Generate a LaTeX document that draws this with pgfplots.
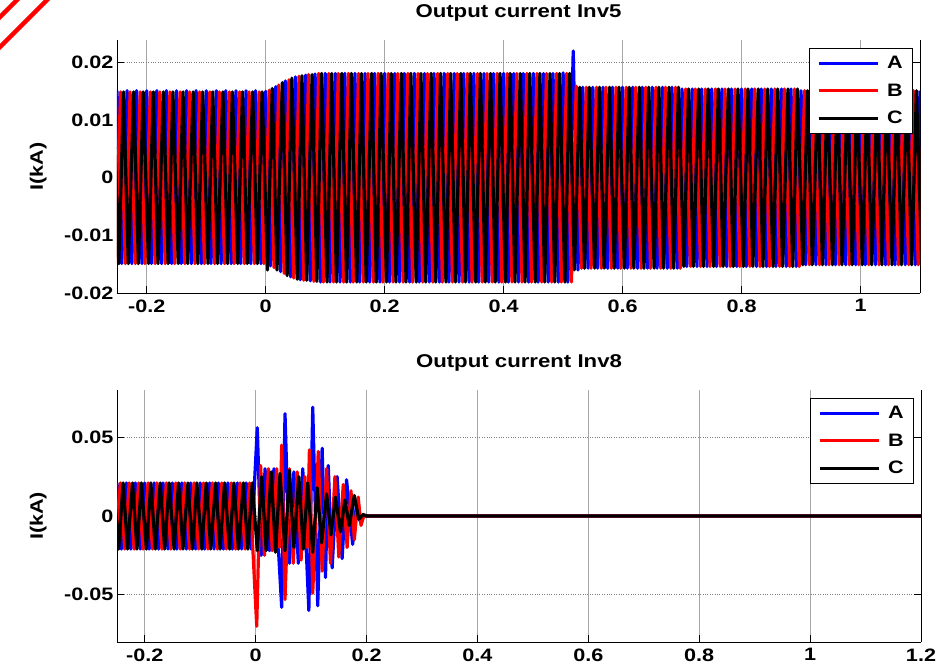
\documentclass[border=0pt]{standalone}
\usepackage{fontspec}
\setmainfont{Liberation Sans}[FakeStretch=1.2]
\usepackage{pgfplots}
\pgfplotsset{compat=1.18}

\pgfplotsset{
  inv/.style={
    scale only axis,
    axis x line*=bottom, axis y line*=box,
    axis line style={-, black, line width=0.9pt},
    tick align=inside, major tick length=7pt,
    every tick/.style={black, line width=0.9pt},
    scaled y ticks=false, scaled x ticks=false,
    grid=major,
    every axis x grid/.append style={gray!70, line width=0.6pt},
    every axis y grid/.append style={gray, dotted, line width=0.7pt},
    tick label style={font=\bfseries\fontsize{18}{20}\selectfont},
    xticklabel style={yshift=-3pt},
    title style={font=\bfseries\fontsize{18.5}{20}\selectfont, at={(0.5,1)}, anchor=base, yshift=16pt},
    every axis y label/.style={at={(axis description cs:-0.098,0.5)}, rotate=90, anchor=center, font=\bfseries\fontsize{18}{20}\selectfont},
    ylabel={I(kA)},
    legend cell align=left,
    legend style={at={(1,1)}, anchor=north east, xshift=-7pt, yshift=-8pt, draw=black, line width=0.8pt,
      font=\bfseries\fontsize{18}{20}\selectfont, row sep=9.5pt, inner xsep=8pt, inner ysep=6pt,
      nodes={inner sep=2pt}, /tikz/every odd column/.append style={column sep=6pt}},
    legend image code/.code={\draw[#1, line width=2.8pt] (0pt,0pt) -- (59pt,0pt);},
    every axis plot/.append style={line width=3.2pt, line join=round},
  }
}

\begin{document}
\begin{tikzpicture}[x=1pt,y=1pt]
\useasboundingbox (0,0) rectangle (945,669);
\draw[red, line width=4.5pt] (-10,612) -- (67,689);
\draw[red, line width=4.5pt] (-10,642) -- (37,689);

% ---------------- Inv5 ----------------
\begin{axis}[inv, at={(117pt,376pt)}, anchor=south west, width=803pt, height=253pt,
  xmin=-0.25, xmax=1.1, ymin=-0.02, ymax=0.0239,
  xtick={-0.2,0,0.2,0.4,0.6,0.8,1}, xticklabels={-0.2,0,0.2,0.4,0.6,0.8,1},
  ytick={-0.02,-0.01,0,0.01,0.02}, yticklabels={-0.02,-0.01,0,0.01,0.02},
  title={Output current Inv5}]
% phase A
\addplot[blue] coordinates {
(-0.250,0.0151) (-0.242,-0.0149) (-0.233,0.0151) (-0.225,-0.0149) (-0.217,0.0151) (-0.208,-0.0149)
(-0.200,0.0151) (-0.192,-0.0149) (-0.183,0.0151) (-0.175,-0.0149) (-0.167,0.0151) (-0.158,-0.0149) (-0.150,0.0151) (-0.142,-0.0149) (-0.133,0.0151) (-0.125,-0.0149) (-0.117,0.0151) (-0.108,-0.0149)
(-0.100,0.0151) (-0.092,-0.0149) (-0.083,0.0151) (-0.075,-0.0149) (-0.067,0.0151) (-0.058,-0.0149) (-0.050,0.0151) (-0.042,-0.0149) (-0.033,0.0151) (-0.025,-0.0149) (-0.017,0.0151) (-0.008,-0.0149)
(0.000,0.0150) (0.008,-0.0153) (0.017,0.0158) (0.025,-0.0163) (0.033,0.0168) (0.042,-0.0172) (0.050,0.0175) (0.058,-0.0177) (0.067,0.0178) (0.075,-0.0179) (0.083,0.0180) (0.092,-0.0181)
(0.100,0.0181) (0.108,-0.0181) (0.117,0.0181) (0.125,-0.0181) (0.133,0.0181) (0.142,-0.0181) (0.150,0.0181) (0.158,-0.0181) (0.167,0.0181) (0.175,-0.0181) (0.183,0.0181) (0.192,-0.0181)
(0.200,0.0181) (0.208,-0.0181) (0.217,0.0181) (0.225,-0.0181) (0.233,0.0181) (0.242,-0.0181) (0.250,0.0181) (0.258,-0.0181) (0.267,0.0181) (0.275,-0.0181) (0.283,0.0181) (0.292,-0.0181)
(0.300,0.0181) (0.308,-0.0181) (0.317,0.0181) (0.325,-0.0181) (0.333,0.0181) (0.342,-0.0181) (0.350,0.0181) (0.358,-0.0181) (0.367,0.0181) (0.375,-0.0181) (0.383,0.0181) (0.392,-0.0181)
(0.400,0.0181) (0.408,-0.0181) (0.417,0.0181) (0.425,-0.0181) (0.433,0.0181) (0.442,-0.0181) (0.450,0.0181) (0.458,-0.0181) (0.467,0.0181) (0.475,-0.0181) (0.483,0.0181) (0.492,-0.0181)
(0.500,0.0182) (0.508,-0.0181) (0.517,0.0220) (0.525,-0.0160) (0.533,0.0157) (0.542,-0.0157) (0.550,0.0157) (0.558,-0.0157) (0.567,0.0157) (0.575,-0.0157) (0.583,0.0157) (0.592,-0.0157)
(0.600,0.0157) (0.608,-0.0157) (0.617,0.0157) (0.625,-0.0157) (0.633,0.0157) (0.642,-0.0157) (0.650,0.0157) (0.658,-0.0157) (0.667,0.0157) (0.675,-0.0157) (0.683,0.0157) (0.692,-0.0157)
(0.700,0.0154) (0.708,-0.0154) (0.717,0.0154) (0.725,-0.0154) (0.733,0.0154) (0.742,-0.0154) (0.750,0.0154) (0.758,-0.0154) (0.767,0.0154) (0.775,-0.0154) (0.783,0.0154) (0.792,-0.0154)
(0.800,0.0154) (0.808,-0.0154) (0.817,0.0154) (0.825,-0.0154) (0.833,0.0154) (0.842,-0.0154) (0.850,0.0154) (0.858,-0.0154) (0.867,0.0154) (0.875,-0.0154) (0.883,0.0154) (0.892,-0.0154)
(0.900,0.0151) (0.908,-0.0151) (0.917,0.0151) (0.925,-0.0151) (0.933,0.0151) (0.942,-0.0151) (0.950,0.0151) (0.958,-0.0151) (0.967,0.0151) (0.975,-0.0151) (0.983,0.0151) (0.992,-0.0151)
(1.000,0.0151) (1.008,-0.0151) (1.017,0.0151) (1.025,-0.0151) (1.033,0.0151) (1.042,-0.0151) (1.050,0.0151) (1.058,-0.0151) (1.067,0.0151) (1.075,-0.0151) (1.083,0.0151) (1.092,-0.0151)
(1.100,0.0151)
};
% phase B
\addplot[red] coordinates {
(-0.253,-0.0149) (-0.244,0.0149) (-0.236,-0.0149) (-0.228,0.0149) (-0.219,-0.0149) (-0.211,0.0149) (-0.203,-0.0149)
(-0.194,0.0149) (-0.186,-0.0149) (-0.178,0.0149) (-0.169,-0.0149) (-0.161,0.0149) (-0.153,-0.0149) (-0.144,0.0149) (-0.136,-0.0149) (-0.128,0.0149) (-0.119,-0.0149) (-0.111,0.0149) (-0.103,-0.0149)
(-0.094,0.0149) (-0.086,-0.0149) (-0.078,0.0149) (-0.069,-0.0149) (-0.061,0.0149) (-0.053,-0.0149) (-0.044,0.0149) (-0.036,-0.0149) (-0.028,0.0149) (-0.019,-0.0149) (-0.011,0.0149) (-0.003,-0.0149)
(0.006,0.0152) (0.014,-0.0156) (0.022,0.0161) (0.031,-0.0166) (0.039,0.0170) (0.047,-0.0174) (0.056,0.0176) (0.064,-0.0178) (0.072,0.0179) (0.081,-0.0180) (0.089,0.0181) (0.097,-0.0181)
(0.106,0.0181) (0.114,-0.0181) (0.122,0.0181) (0.131,-0.0181) (0.139,0.0181) (0.147,-0.0181) (0.156,0.0181) (0.164,-0.0181) (0.172,0.0181) (0.181,-0.0181) (0.189,0.0181) (0.197,-0.0181)
(0.206,0.0181) (0.214,-0.0181) (0.222,0.0181) (0.231,-0.0181) (0.239,0.0181) (0.247,-0.0181) (0.256,0.0181) (0.264,-0.0181) (0.272,0.0181) (0.281,-0.0181) (0.289,0.0181) (0.297,-0.0181)
(0.306,0.0181) (0.314,-0.0181) (0.322,0.0181) (0.331,-0.0181) (0.339,0.0181) (0.347,-0.0181) (0.356,0.0181) (0.364,-0.0181) (0.372,0.0181) (0.381,-0.0181) (0.389,0.0181) (0.397,-0.0181)
(0.406,0.0181) (0.414,-0.0181) (0.422,0.0181) (0.431,-0.0181) (0.439,0.0181) (0.447,-0.0181) (0.456,0.0181) (0.464,-0.0181) (0.472,0.0181) (0.481,-0.0181) (0.489,0.0181) (0.497,-0.0181)
(0.506,0.0181) (0.514,-0.0181) (0.522,0.0159) (0.531,-0.0157) (0.539,0.0157) (0.547,-0.0157) (0.556,0.0157) (0.564,-0.0157) (0.572,0.0157) (0.581,-0.0157) (0.589,0.0157) (0.597,-0.0157)
(0.606,0.0157) (0.614,-0.0157) (0.622,0.0157) (0.631,-0.0157) (0.639,0.0157) (0.647,-0.0157) (0.656,0.0157) (0.664,-0.0157) (0.672,0.0157) (0.681,-0.0157) (0.689,0.0157) (0.697,-0.0157)
(0.706,0.0154) (0.714,-0.0154) (0.722,0.0154) (0.731,-0.0154) (0.739,0.0154) (0.747,-0.0154) (0.756,0.0154) (0.764,-0.0154) (0.772,0.0154) (0.781,-0.0154) (0.789,0.0154) (0.797,-0.0154)
(0.806,0.0154) (0.814,-0.0154) (0.822,0.0154) (0.831,-0.0154) (0.839,0.0154) (0.847,-0.0154) (0.856,0.0154) (0.864,-0.0154) (0.872,0.0154) (0.881,-0.0154) (0.889,0.0154) (0.897,-0.0154)
(0.906,0.0151) (0.914,-0.0151) (0.922,0.0151) (0.931,-0.0151) (0.939,0.0151) (0.947,-0.0151) (0.956,0.0151) (0.964,-0.0151) (0.972,0.0151) (0.981,-0.0151) (0.989,0.0151) (0.997,-0.0151)
(1.006,0.0151) (1.014,-0.0151) (1.022,0.0151) (1.031,-0.0151) (1.039,0.0151) (1.047,-0.0151) (1.056,0.0151) (1.064,-0.0151) (1.072,0.0151) (1.081,-0.0151) (1.089,0.0151) (1.097,-0.0151)
(1.106,0.0151)
};
% phase C
\addplot[black] coordinates {
(-0.256,0.0149) (-0.247,-0.0149) (-0.239,0.0149) (-0.231,-0.0149) (-0.222,0.0149) (-0.214,-0.0149) (-0.206,0.0149)
(-0.197,-0.0149) (-0.189,0.0149) (-0.181,-0.0149) (-0.172,0.0149) (-0.164,-0.0149) (-0.156,0.0149) (-0.147,-0.0149) (-0.139,0.0149) (-0.131,-0.0149) (-0.122,0.0149) (-0.114,-0.0149) (-0.106,0.0149)
(-0.097,-0.0149) (-0.089,0.0149) (-0.081,-0.0149) (-0.072,0.0149) (-0.064,-0.0149) (-0.056,0.0149) (-0.047,-0.0149) (-0.039,0.0149) (-0.031,-0.0149) (-0.022,0.0149) (-0.014,-0.0149) (-0.006,0.0149)
(0.003,-0.0160) (0.011,0.0155) (0.019,-0.0160) (0.028,0.0165) (0.036,-0.0170) (0.044,0.0173) (0.053,-0.0176) (0.061,0.0177) (0.069,-0.0178) (0.078,0.0179) (0.086,-0.0180) (0.094,0.0181)
(0.103,-0.0181) (0.111,0.0181) (0.119,-0.0181) (0.128,0.0181) (0.136,-0.0181) (0.144,0.0181) (0.153,-0.0181) (0.161,0.0181) (0.169,-0.0181) (0.178,0.0181) (0.186,-0.0181) (0.194,0.0181)
(0.203,-0.0181) (0.211,0.0181) (0.219,-0.0181) (0.228,0.0181) (0.236,-0.0181) (0.244,0.0181) (0.253,-0.0181) (0.261,0.0181) (0.269,-0.0181) (0.278,0.0181) (0.286,-0.0181) (0.294,0.0181)
(0.303,-0.0181) (0.311,0.0181) (0.319,-0.0181) (0.328,0.0181) (0.336,-0.0181) (0.344,0.0181) (0.353,-0.0181) (0.361,0.0181) (0.369,-0.0181) (0.378,0.0181) (0.386,-0.0181) (0.394,0.0181)
(0.403,-0.0181) (0.411,0.0181) (0.419,-0.0181) (0.428,0.0181) (0.436,-0.0181) (0.444,0.0181) (0.453,-0.0181) (0.461,0.0181) (0.469,-0.0181) (0.478,0.0181) (0.486,-0.0181) (0.494,0.0181)
(0.503,-0.0181) (0.511,0.0181) (0.519,-0.0160) (0.528,0.0157) (0.536,-0.0157) (0.544,0.0157) (0.553,-0.0157) (0.561,0.0157) (0.569,-0.0157) (0.578,0.0157) (0.586,-0.0157) (0.594,0.0157)
(0.603,-0.0157) (0.611,0.0157) (0.619,-0.0157) (0.628,0.0157) (0.636,-0.0157) (0.644,0.0157) (0.653,-0.0157) (0.661,0.0157) (0.669,-0.0157) (0.678,0.0157) (0.686,-0.0157) (0.694,0.0157)
(0.703,-0.0154) (0.711,0.0154) (0.719,-0.0154) (0.728,0.0154) (0.736,-0.0154) (0.744,0.0154) (0.753,-0.0154) (0.761,0.0154) (0.769,-0.0154) (0.778,0.0154) (0.786,-0.0154) (0.794,0.0154)
(0.803,-0.0154) (0.811,0.0154) (0.819,-0.0154) (0.828,0.0154) (0.836,-0.0154) (0.844,0.0154) (0.853,-0.0154) (0.861,0.0154) (0.869,-0.0154) (0.878,0.0154) (0.886,-0.0154) (0.894,0.0154)
(0.903,-0.0151) (0.911,0.0151) (0.919,-0.0151) (0.928,0.0151) (0.936,-0.0151) (0.944,0.0151) (0.953,-0.0151) (0.961,0.0151) (0.969,-0.0151) (0.978,0.0151) (0.986,-0.0151) (0.994,0.0151)
(1.003,-0.0151) (1.011,0.0151) (1.019,-0.0151) (1.028,0.0151) (1.036,-0.0151) (1.044,0.0151) (1.053,-0.0151) (1.061,0.0151) (1.069,-0.0151) (1.078,0.0151) (1.086,-0.0151) (1.094,0.0151)
(1.103,-0.0151)
};
\legend{A,B,C}
\end{axis}

% ---------------- Inv8 ----------------
\begin{axis}[inv, at={(117pt,27pt)}, anchor=south west, width=804pt, height=252pt,
  xmin=-0.25, xmax=1.2, ymin=-0.08, ymax=0.08,
  xtick={-0.2,0,0.2,0.4,0.6,0.8,1,1.2}, xticklabels={-0.2,0,0.2,0.4,0.6,0.8,1,1.2},
  ytick={-0.05,0,0.05}, yticklabels={-0.05,0,0.05},
  title={Output current Inv8}]
% phase A
\addplot[blue] coordinates {
(-0.250,0.021) (-0.242,-0.021) (-0.233,0.021) (-0.225,-0.021) (-0.217,0.021) (-0.208,-0.021)
(-0.200,0.021) (-0.192,-0.021) (-0.183,0.021) (-0.175,-0.021) (-0.167,0.021) (-0.158,-0.021) (-0.150,0.021) (-0.142,-0.021) (-0.133,0.021) (-0.125,-0.021) (-0.117,0.021) (-0.108,-0.021)
(-0.100,0.021) (-0.092,-0.021) (-0.083,0.021) (-0.075,-0.021) (-0.067,0.021) (-0.058,-0.021) (-0.050,0.021) (-0.042,-0.021) (-0.033,0.021) (-0.025,-0.021) (-0.017,0.021) (-0.008,-0.021)
(0.003,0.056) (0.010,-0.025) (0.017,0.030) (0.025,-0.022) (0.033,0.030) (0.047,-0.058) (0.053,0.065) (0.061,-0.030)
(0.069,0.028) (0.077,-0.030) (0.085,0.030) (0.096,-0.060) (0.103,0.069) (0.112,-0.057) (0.120,0.043) (0.126,-0.039)
(0.131,0.032) (0.138,-0.033) (0.147,0.025) (0.156,-0.027) (0.164,0.023) (0.175,-0.018) (0.182,0.008) (0.188,-0.003)
(0.195,0) (1.2,0)
};
% phase B
\addplot[red] coordinates {
(-0.253,-0.021) (-0.244,0.021) (-0.236,-0.021) (-0.228,0.021) (-0.219,-0.021) (-0.211,0.021) (-0.203,-0.021)
(-0.194,0.021) (-0.186,-0.021) (-0.178,0.021) (-0.169,-0.021) (-0.161,0.021) (-0.153,-0.021) (-0.144,0.021) (-0.136,-0.021) (-0.128,0.021) (-0.119,-0.021) (-0.111,0.021) (-0.103,-0.021)
(-0.094,0.021) (-0.086,-0.021) (-0.078,0.021) (-0.069,-0.021) (-0.061,0.021) (-0.053,-0.021) (-0.044,0.021) (-0.036,-0.021) (-0.028,0.021) (-0.019,-0.021) (-0.011,0.021)
(0.002,-0.070) (0.009,0.032) (0.016,-0.025) (0.023,0.030) (0.030,-0.022) (0.038,0.030) (0.043,-0.020) (0.047,0.045)
(0.053,-0.053) (0.061,0.030) (0.068,-0.030) (0.075,0.028) (0.082,-0.028) (0.089,0.025) (0.093,-0.020) (0.097,0.042)
(0.103,-0.049) (0.113,0.041) (0.120,-0.035) (0.128,0.030) (0.135,-0.030) (0.143,0.025) (0.150,-0.026) (0.158,0.020)
(0.165,-0.020) (0.172,0.016) (0.178,-0.015) (0.185,0.012) (0.190,-0.006) (0.195,0) (1.2,0)
};
% phase C
\addplot[black] coordinates {
(-0.256,0.021) (-0.247,-0.021) (-0.239,0.021) (-0.231,-0.021) (-0.222,0.021) (-0.214,-0.021) (-0.206,0.021)
(-0.197,-0.021) (-0.189,0.021) (-0.181,-0.021) (-0.172,0.021) (-0.164,-0.021) (-0.156,0.021) (-0.147,-0.021) (-0.139,0.021) (-0.131,-0.021) (-0.122,0.021) (-0.114,-0.021) (-0.106,0.021)
(-0.097,-0.021) (-0.089,0.021) (-0.081,-0.021) (-0.072,0.021) (-0.064,-0.021) (-0.056,0.021) (-0.047,-0.021) (-0.039,0.021) (-0.031,-0.021) (-0.022,0.021) (-0.014,-0.021) (-0.006,0.021)
(0.003,-0.022) (0.011,0.025) (0.019,-0.022) (0.028,0.028) (0.036,-0.023) (0.044,0.027) (0.053,-0.022) (0.061,0.029)
(0.069,-0.020) (0.078,0.025) (0.086,-0.021) (0.094,0.021) (0.103,-0.023) (0.111,0.018) (0.119,-0.017) (0.128,0.014)
(0.136,-0.012) (0.144,0.012) (0.153,-0.010) (0.161,0.010) (0.169,-0.006) (0.178,0.013) (0.186,-0.002) (0.194,0.001)
(0.200,0) (1.2,0)
};
\legend{A,B,C}
\end{axis}
\end{tikzpicture}
\end{document}
